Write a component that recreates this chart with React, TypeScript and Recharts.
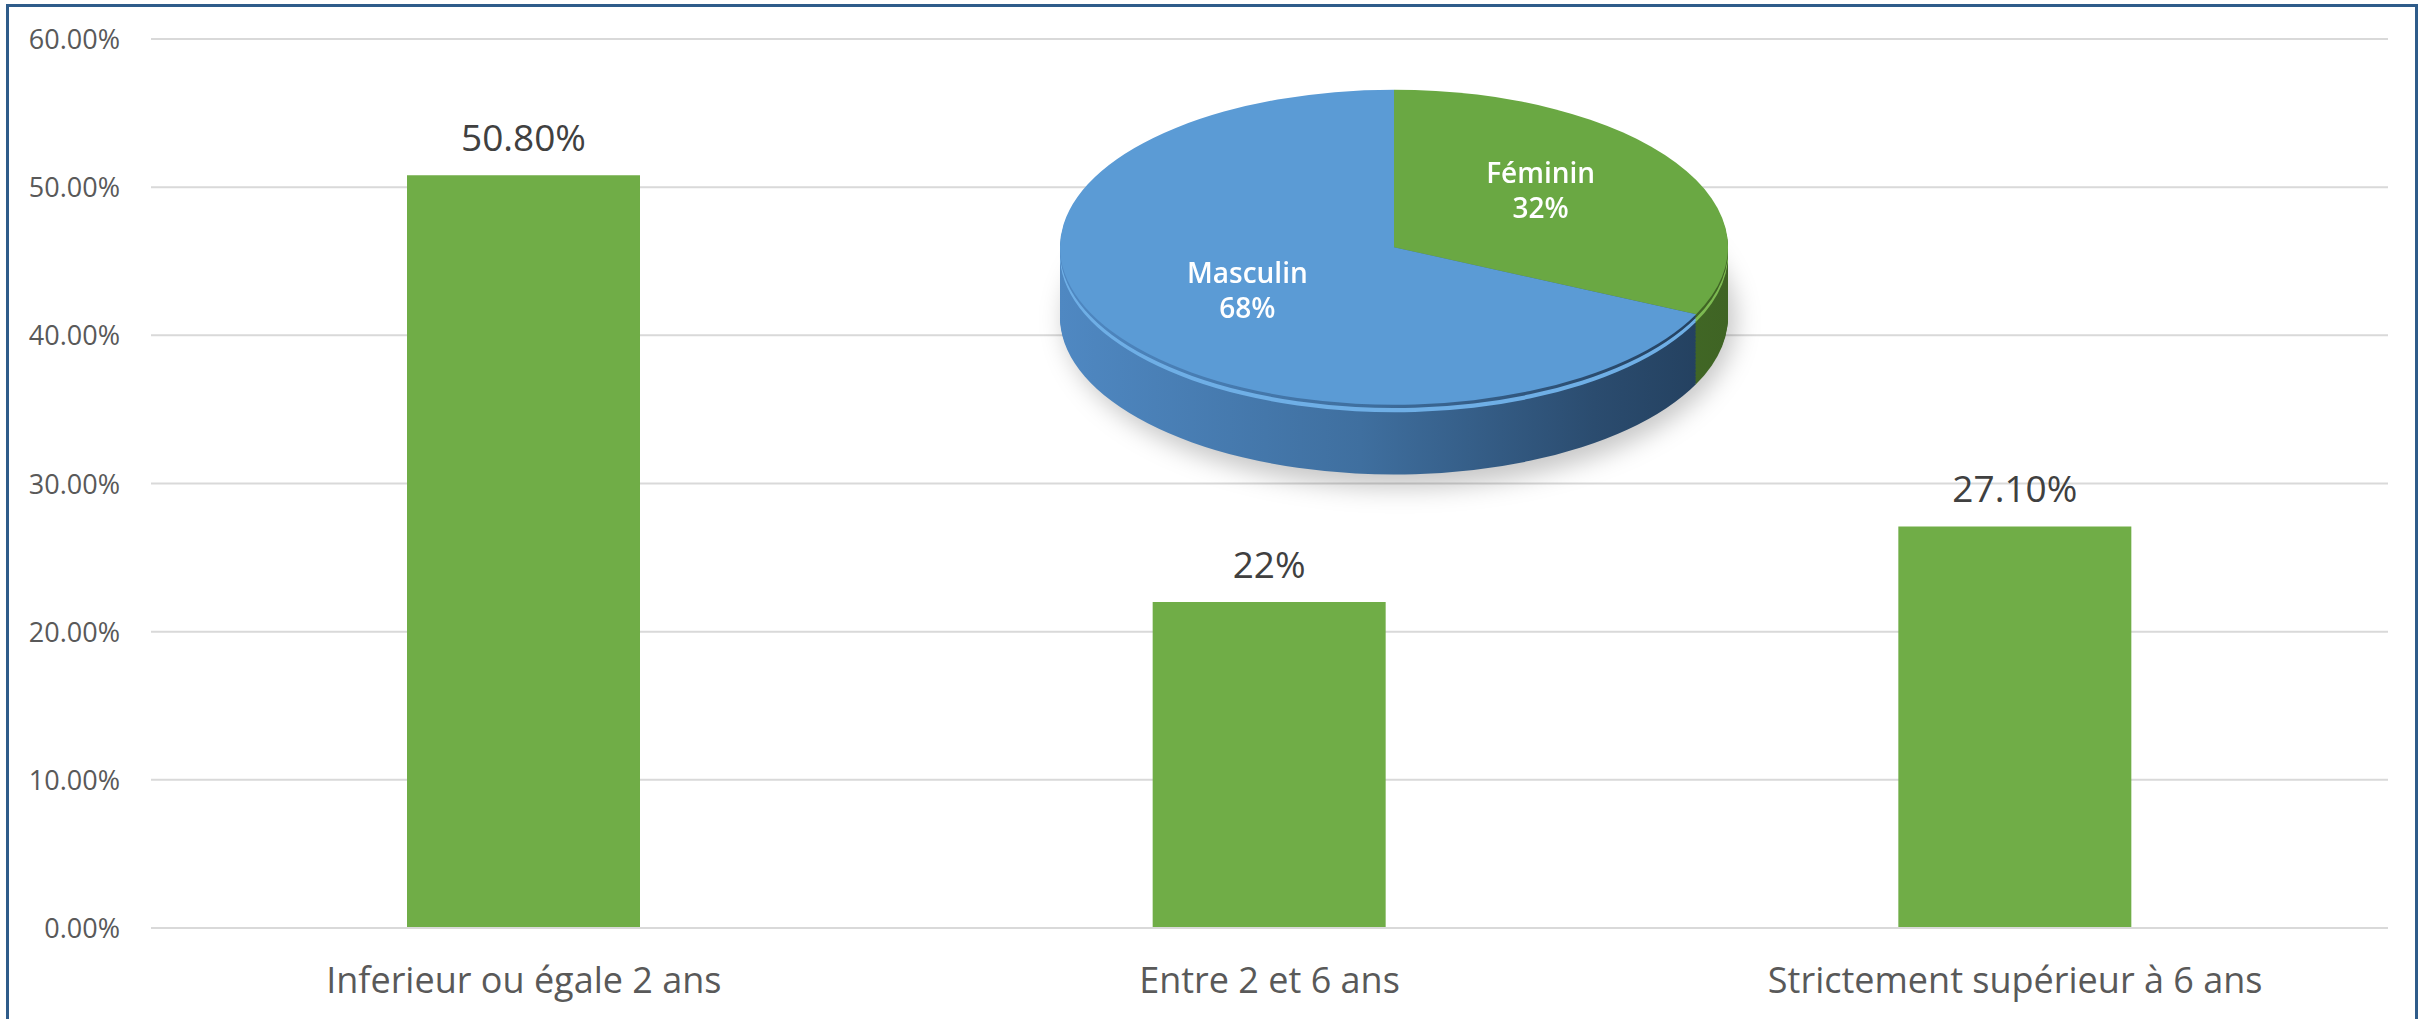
import React from 'react';
import { BarChart, Bar, XAxis, YAxis, CartesianGrid, LabelList, PieChart, Pie, Cell } from 'recharts';

const categories = ['Inferieur ou égale 2 ans', 'Entre 2 et 6 ans', 'Strictement supérieur à 6 ans'];
const shares = [50.8, 22, 27.1];
const shareLabels = ['50.80%', '22%', '27.10%'];
const yTicks = [0, 10, 20, 30, 40, 50, 60];

const genders = ['Féminin', 'Masculin'];
const genderShares = [32, 68];
const genderLabels = ['32%', '68%'];

const barData = categories.map((c, i) => ({ category: c, value: shares[i], label: shareLabels[i] }));
const pieData = genders.map((g, i) => ({ name: g, value: genderShares[i], label: genderLabels[i] }));

const FONT = '"Open Sans", "Noto Sans", sans-serif';
const RAD = Math.PI / 180;

// pie geometry (3D look via vertical squash)
const R = 334;
const PAD = 12;
const S = 0.4716;
const THICK = 148;
const PW = 2 * (R + PAD);
const PH = 2 * (R + PAD) + THICK;
const PCX = R + PAD;
const PCY = R + PAD;
const PIE_LEFT = 1394 - PCX;
const PIE_TOP = 247.5 - PCY * S;

const topColors = ['#6AA843', '#5B9BD5'];
const sideFills = ['url(#sideGreen)', 'url(#sideBlue)'];
const rimColors = ['#7DBA52', '#6FAFE6'];

const XTick = (props: any) => {
  const { x, y, payload } = props;
  return (
    <text x={x} y={y + 65} textAnchor="middle" fill="#595959" fontSize={36} fontFamily={FONT}>
      {payload.value}
    </text>
  );
};

const YTick = (props: any) => {
  const { x, y, payload } = props;
  return (
    <text x={x - 31} y={y + 10} textAnchor="end" fill="#595959" fontSize={27} fontFamily={FONT}>
      {`${Number(payload.value).toFixed(2)}%`}
    </text>
  );
};

const BarLabel = (props: any) => {
  const { x, y, width, value } = props;
  return (
    <text x={x + width / 2} y={y - 24} textAnchor="middle" fill="#404040" fontSize={37} fontFamily={FONT}>
      {value}
    </text>
  );
};

const renderPieLabel = (props: any) => {
  const { cx, cy, midAngle, outerRadius, index } = props;
  const r = outerRadius * 0.52;
  const x = cx + r * Math.cos(-midAngle * RAD);
  const y = cy + r * Math.sin(-midAngle * RAD) - outerRadius * 0.08 * (Math.sin(midAngle * RAD) > 0 ? 1 : 0);
  return (
    <g transform={`translate(${x},${y}) scale(1,${1 / S})`}>
      <text textAnchor="middle" fill="#ffffff" fontSize={28} fontWeight={600} fontFamily={FONT}>
        <tspan x={0} y={-8}>{pieData[index].name}</tspan>
        <tspan x={0} y={27}>{pieData[index].label}</tspan>
      </text>
    </g>
  );
};

const sideOffsets: number[] = [];
for (let d = THICK; d >= 3; d -= 3) sideOffsets.push(d);

export default function App() {
  return (
    <div style={{ position: 'relative', width: 2430, height: 1019, background: '#fff', overflow: 'hidden' }}>
      <style>{'body{margin:0;}'}</style>
      <BarChart width={2430} height={1019} data={barData} margin={{ top: 39, right: 42, left: 0, bottom: 0 }}>
        <CartesianGrid vertical={false} stroke="#D9D9D9" strokeWidth={2} />
        <XAxis
          dataKey="category"
          axisLine={{ stroke: '#D9D9D9', strokeWidth: 2 }}
          tickLine={false}
          tickSize={0}
          tickMargin={0}
          height={91}
          interval={0}
          tick={<XTick />}
        />
        <YAxis
          domain={[0, 60]}
          ticks={yTicks}
          width={151}
          axisLine={false}
          tickLine={false}
          tickSize={0}
          tickMargin={0}
          tick={<YTick />}
        />
        <Bar dataKey="value" fill="#70AD47" barSize={233} isAnimationActive={false}>
          <LabelList dataKey="label" content={<BarLabel />} />
        </Bar>
      </BarChart>

      <div
        style={{
          position: 'absolute',
          left: 1064,
          top: 150,
          width: 672,
          height: 338,
          borderRadius: '50%',
          background: 'rgba(0,0,0,0.22)',
          filter: 'blur(12px)',
        }}
      />

      <div
        style={{
          position: 'absolute',
          left: PIE_LEFT,
          top: PIE_TOP,
          width: PW,
          height: PH,
          transform: `scaleY(${S})`,
          transformOrigin: 'top left',
        }}
      >
        <PieChart width={PW} height={PH} margin={{ top: 0, right: 0, bottom: 0, left: 0 }}>
          <defs>
            <linearGradient id="sideBlue" gradientUnits="userSpaceOnUse" x1={PCX - R} y1={0} x2={PCX + R} y2={0}>
              <stop offset="0%" stopColor="#4F88C2" />
              <stop offset="45%" stopColor="#3F6F9F" />
              <stop offset="80%" stopColor="#2B4C6F" />
              <stop offset="100%" stopColor="#223E5C" />
            </linearGradient>
            <linearGradient id="sideGreen" gradientUnits="userSpaceOnUse" x1={PCX - R} y1={0} x2={PCX + R} y2={0}>
              <stop offset="0%" stopColor="#5E8F3A" />
              <stop offset="100%" stopColor="#3F6424" />
            </linearGradient>
          </defs>
          {sideOffsets.map((d) => (
            <Pie
              key={`side-${d}`}
              data={pieData}
              dataKey="value"
              cx={PCX}
              cy={PCY + d}
              outerRadius={R}
              startAngle={90}
              endAngle={-270}
              stroke="none"
              isAnimationActive={false}
            >
              {pieData.map((_, i) => (
                <Cell key={i} fill={d >= 9 && d <= 18 ? rimColors[i] : sideFills[i]} />
              ))}
            </Pie>
          ))}
          <Pie
            data={pieData}
            dataKey="value"
            cx={PCX}
            cy={PCY}
            outerRadius={R}
            startAngle={90}
            endAngle={-270}
            stroke="none"
            label={renderPieLabel}
            labelLine={false}
            isAnimationActive={false}
          >
            {pieData.map((_, i) => (
              <Cell key={i} fill={topColors[i]} />
            ))}
          </Pie>
        </PieChart>
      </div>

      <div
        style={{
          position: 'absolute',
          left: 6,
          top: 4,
          width: 2412,
          height: 1100,
          boxSizing: 'border-box',
          border: '3px solid #2F5C8A',
        }}
      />
    </div>
  );
}
